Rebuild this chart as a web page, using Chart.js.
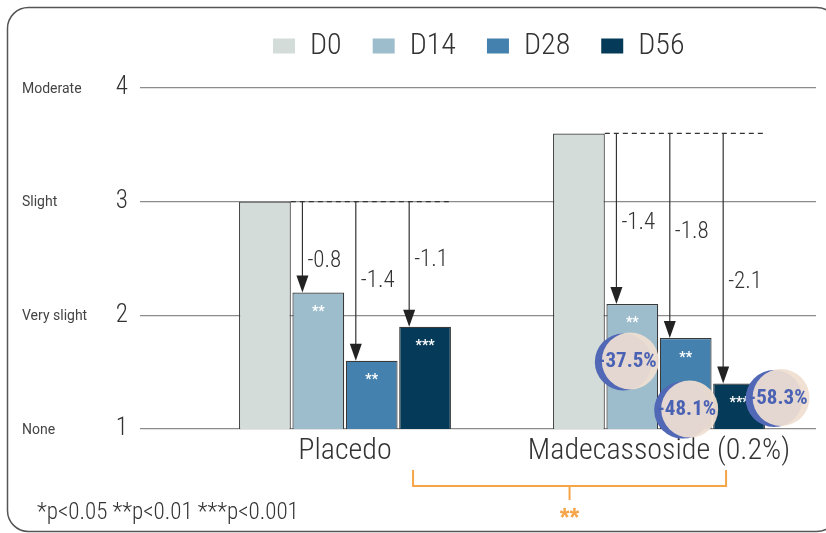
<!DOCTYPE html>
<html><head><meta charset="utf-8">
<script src="https://cdn.jsdelivr.net/npm/chart.js@4.4.1/dist/chart.umd.min.js"></script>
<style>html,body{margin:0;padding:0;background:#fff;} canvas{display:block;}</style>
</head><body>
<canvas id="c" width="826" height="533"></canvas>
<script>
// ---- data ----
const categories = ['Placedo', 'Madecassoside (0.2%)'];
const seriesNames = ['D0', 'D14', 'D28', 'D56'];
const d0Values  = [3.0, 3.6];
const d14Values = [2.2, 2.1];
const d28Values = [1.6, 1.8];
const d56Values = [1.9, 1.4];
const d14Change = ['-0.8', '-1.4'];
const d28Change = ['-1.4', '-1.8'];
const d56Change = ['-1.1', '-2.1'];
const d14Sig = ['**', '**'];
const d28Sig = ['**', '**'];
const d56Sig = ['***', '***'];
const madecassosidePct = ['-37.5%', '-48.1%', '-58.3%'];
const yTickValues = [1, 2, 3, 4];
const yLevelNames = ['None', 'Very slight', 'Slight', 'Moderate'];
const groupComparisonSig = '**';
const footnoteText = '*p<0.05 **p<0.01 ***p<0.001';

// ---- styles / placement ----
const NARROW = "'Liberation Sans Narrow', 'Roboto Condensed', 'DejaVu Sans Condensed', sans-serif";
const SANS = "Roboto, 'Open Sans', sans-serif";
const seriesColors = ['#d3dcd8', '#9dbdcc', '#4581ae', '#053a58'];
const badgePlacement = [{dx: -2, dy: 57}, {dx: 4, dy: 71}, {dx: 42, dy: 14}];
// vertical nudge of the change labels relative to arrow midpoint, [category][series-1]
const changeLabelNudge = [[14, 0, -4], [5, -4, 24]];

const allValues = [d0Values, d14Values, d28Values, d56Values];

const annot = {
  id: 'annot',
  afterLayout(chart) {
    const lg = chart.legend;
    const pad = lg.options.labels.padding;
    const start = (lg.left + pad + lg.right - lg.lineWidths[0]) / 2;
    const dx = 273 - start;
    lg.left += dx; lg.right += dx;
    lg.top -= 17; lg.bottom -= 17;
  },
  afterDatasetsDraw(chart) {
    const ctx = chart.ctx;
    const metas = [0, 1, 2, 3].map(i => chart.getDatasetMeta(i));
    const changes = [null, d14Change, d28Change, d56Change];
    const sigs = [null, d14Sig, d28Sig, d56Sig];
    ctx.save();
    for (let c = 0; c < categories.length; c++) {
      const b0 = metas[0].data[c];
      const y0 = b0.y;
      const bLast = metas[3].data[c];
      ctx.strokeStyle = '#333'; ctx.lineWidth = 1.2;
      ctx.setLineDash([5, 4]);
      ctx.beginPath(); ctx.moveTo(b0.x + b0.width / 2, y0); ctx.lineTo(bLast.x + bLast.width / 2 - 2, y0); ctx.stroke();
      ctx.setLineDash([]);
      for (let s = 1; s < 4; s++) {
        const b = metas[s].data[c];
        const ax = b.x - b.width / 2 + 10;
        ctx.strokeStyle = '#333'; ctx.lineWidth = 1.2;
        ctx.beginPath(); ctx.moveTo(ax, y0); ctx.lineTo(ax, b.y - 12); ctx.stroke();
        ctx.fillStyle = '#222';
        ctx.beginPath(); ctx.moveTo(ax - 6, b.y - 17); ctx.lineTo(ax + 6, b.y - 17); ctx.lineTo(ax, b.y); ctx.closePath(); ctx.fill();
        ctx.font = '300 23px ' + NARROW; ctx.fillStyle = '#333';
        ctx.textAlign = 'left'; ctx.textBaseline = 'middle';
        ctx.fillText(changes[s][c], ax + 5, (y0 + b.y) / 2 + changeLabelNudge[c][s - 1]);
        ctx.font = 'bold 14px ' + SANS; ctx.fillStyle = '#fff'; ctx.textAlign = 'center';
        ctx.fillText(sigs[s][c], b.x, b.y + 20);
      }
    }
    // bracket
    const p = metas[3].data[0], m = metas[3].data[1];
    const x1 = p.x - 12, x2 = m.x - 13, xm = (x1 + x2) / 2;
    ctx.strokeStyle = '#f5a447'; ctx.lineWidth = 2;
    ctx.beginPath();
    ctx.moveTo(x1, 470); ctx.lineTo(x1, 486); ctx.lineTo(x2, 486); ctx.lineTo(x2, 470);
    ctx.moveTo(xm, 486); ctx.lineTo(xm, 500);
    ctx.stroke();
    ctx.fillStyle = '#f5a447'; ctx.font = "bold 25px 'Liberation Sans', sans-serif"; ctx.textAlign = 'center'; ctx.textBaseline = 'middle';
    ctx.fillText(groupComparisonSig, xm, 519);
    ctx.restore();
  },
  afterDraw(chart) {
    const ctx = chart.ctx;
    const yScale = chart.scales.y;
    ctx.save();
    // y level names
    ctx.font = '14px ' + SANS; ctx.fillStyle = '#444'; ctx.textAlign = 'left'; ctx.textBaseline = 'middle';
    yTickValues.forEach((v, k) => ctx.fillText(yLevelNames[k], 22, yScale.getPixelForValue(v) + 1));
    // badges for Madecassoside
    for (let s = 1; s < 4; s++) {
      const b = chart.getDatasetMeta(s).data[1];
      const pl = badgePlacement[s - 1];
      const cx = b.x + pl.dx, cy = b.y + pl.dy, r = 28.5;
      ctx.fillStyle = '#5068b6';
      ctx.beginPath(); ctx.arc(cx - 7, cy + 1, r, 0, Math.PI * 2); ctx.fill();
      ctx.fillStyle = 'rgba(240,223,210,0.93)';
      ctx.beginPath(); ctx.arc(cx, cy, r, 0, Math.PI * 2); ctx.fill();
      ctx.fillStyle = '#4a62b4'; ctx.font = 'bold 21px ' + NARROW; ctx.textAlign = 'center';
      ctx.fillText(madecassosidePct[s - 1], cx - 3, cy + 1);
    }
    // footnote
    ctx.fillStyle = '#333'; ctx.font = '300 23px ' + NARROW; ctx.textAlign = 'left';
    ctx.fillText(footnoteText, 37, 513);
    // frame
    ctx.strokeStyle = '#555'; ctx.lineWidth = 1.5;
    ctx.beginPath(); ctx.roundRect(7.5, 7.5, 830, 524, 21); ctx.stroke();
    ctx.restore();
  }
};

new Chart(document.getElementById('c'), {
  type: 'bar',
  data: {
    labels: categories,
    datasets: seriesNames.map((name, i) => ({
      label: name,
      data: allValues[i],
      backgroundColor: seriesColors[i],
      borderColor: '#3a3a3a',
      borderWidth: 1.2,
      barPercentage: 0.97,
      categoryPercentage: 0.68
    }))
  },
  options: {
    responsive: false,
    animation: false,
    devicePixelRatio: 1,
    layout: { padding: { top: 17, right: 10, left: 0, bottom: 0 } },
    plugins: {
      tooltip: { enabled: false },
      legend: {
        position: 'top',
        labels: {
          boxWidth: 22, boxHeight: 15, padding: 31, color: '#333',
          font: { family: NARROW, size: 30, weight: '300' },
          generateLabels(chart) {
            const items = Chart.defaults.plugins.legend.labels.generateLabels(chart);
            items.forEach(it => { it.lineWidth = 0; it.strokeStyle = 'rgba(0,0,0,0)'; });
            return items;
          }
        }
      }
    },
    scales: {
      x: {
        grid: { display: false },
        border: { display: false },
        ticks: { color: '#333', font: { family: NARROW, size: 30, weight: '300' }, padding: -4 },
        afterFit(scale) { scale.height = 104; }
      },
      y: {
        min: 1, max: 4,
        afterBuildTicks(scale) { scale.ticks = yTickValues.map(v => ({ value: v })); },
        grid: { color: '#8c8c8c', lineWidth: 1.3, drawTicks: true, tickLength: 48 },
        border: { display: false },
        ticks: { color: '#333', font: { family: NARROW, size: 25, weight: '300' }, padding: 12 },
        afterFit(scale) { scale.width = 188; }
      }
    }
  },
  plugins: [annot]
});
</script>
</body></html>
